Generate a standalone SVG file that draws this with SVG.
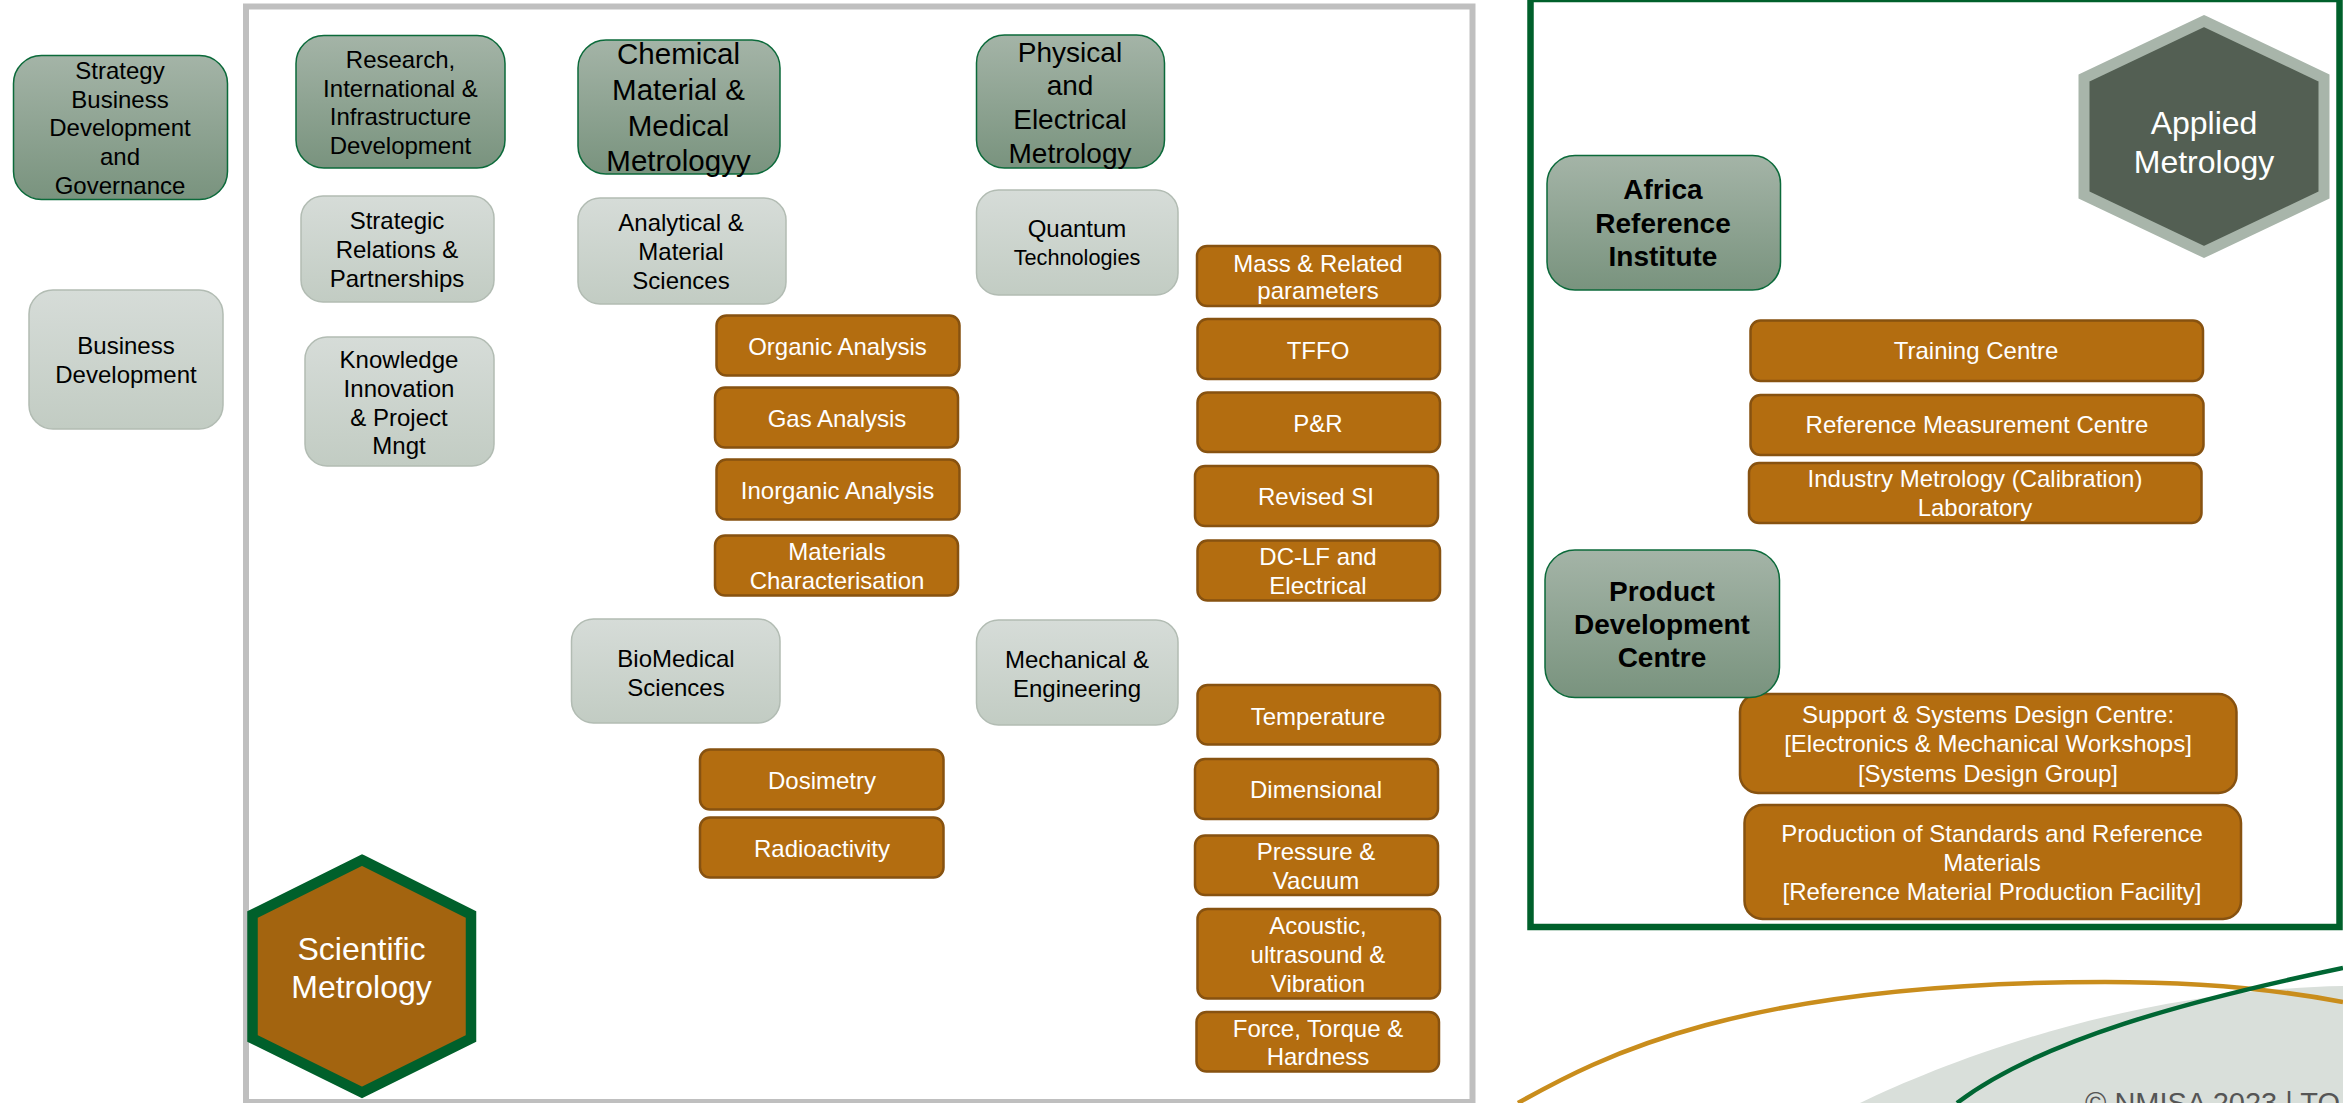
<svg xmlns="http://www.w3.org/2000/svg" width="2343" height="1103" viewBox="0 0 2343 1103">
<style>
text{font-family:"Liberation Sans",Arial,sans-serif;text-anchor:middle}
.k{fill:#000;font-size:24px}
.w{fill:#fff;font-size:24px}
.g{fill:url(#gg);stroke:#0b6a3a;stroke-width:1.5}
.l{fill:url(#lg);stroke:#b2bcb3;stroke-width:1.5}
.o{fill:#b36d10;stroke:#875210;stroke-width:2.500}
.big{font-size:32px}
.b{font-weight:bold;font-size:28px}
</style>
<defs>
<linearGradient id="gg" x1="0" y1="0" x2="0" y2="1"><stop offset="0" stop-color="#a4b4a7"/><stop offset="1" stop-color="#79937e"/></linearGradient>
<linearGradient id="lg" x1="0" y1="0" x2="0" y2="1"><stop offset="0" stop-color="#d6dcd8"/><stop offset="1" stop-color="#c2ccc3"/></linearGradient>
</defs>
<rect width="2343" height="1103" fill="#fff"/>
<g id="background">
<path d="M1860 1103C1950 1060 2130 990 2343 986V1103Z" fill="#d9dfda"/>
<path d="M1518 1103C1600 1057 1740 982 2105 982C2200 982 2280 990 2343 1002" fill="none" stroke="#c98d1c" stroke-width="4.500"/>
<path d="M1957 1103C2040 1040 2190 1000 2343 968" fill="none" stroke="#006633" stroke-width="4.500"/>
<text x="2085" y="1113" style="text-anchor:start;font-size:29px;fill:#555">© NMISA 2023 | TO</text>
<rect id="frame-scientific" x="246" y="6.500" width="1226.500" height="1095.500" fill="none" stroke="#bfbfbf" stroke-width="6"/>
<rect id="frame-applied" x="1530.500" y="-1" width="809" height="928" fill="none" stroke="#00602b" stroke-width="6.500"/>
</g>
<g id="connectors"/>

<g id="strategy"><rect class="g" x="13.500" y="55.500" width="214" height="144" rx="28"/><text class="k"><tspan x="120" y="79">Strategy</tspan><tspan x="120" y="108">Business</tspan><tspan x="120" y="136">Development</tspan><tspan x="120" y="165">and</tspan><tspan x="120" y="194">Governance</tspan></text></g>
<g id="business-development"><rect class="l" x="29" y="290" width="194" height="139" rx="24"/><text class="k"><tspan x="126" y="354">Business</tspan><tspan x="126" y="383">Development</tspan></text></g>
<g id="research"><rect class="g" x="296" y="35.500" width="209" height="132.500" rx="28"/><text class="k"><tspan x="400.500" y="68">Research,</tspan><tspan x="400.500" y="97">International &amp;</tspan><tspan x="400.500" y="125">Infrastructure</tspan><tspan x="400.500" y="154">Development</tspan></text></g>
<g id="strategic-relations"><rect class="l" x="301" y="196" width="193" height="106" rx="22"/><text class="k"><tspan x="397" y="229">Strategic</tspan><tspan x="397" y="258">Relations &amp;</tspan><tspan x="397" y="287">Partnerships</tspan></text></g>
<g id="knowledge"><rect class="l" x="305" y="337" width="189" height="129" rx="22"/><text class="k"><tspan x="399" y="368">Knowledge</tspan><tspan x="399" y="397">Innovation</tspan><tspan x="399" y="426">&amp; Project</tspan><tspan x="399" y="454">Mngt</tspan></text></g>
<g id="chemical"><rect class="g" x="578" y="40" width="202" height="134" rx="28"/><text class="k" style="font-size:29.500px"><tspan x="678.500" y="64">Chemical</tspan><tspan x="678.500" y="100">Material &amp;</tspan><tspan x="678.500" y="136">Medical</tspan><tspan x="678.500" y="171">Metrologyy</tspan></text></g>
<g id="analytical"><rect class="l" x="578" y="198" width="208" height="106" rx="22"/><text class="k"><tspan x="681" y="231">Analytical &amp;</tspan><tspan x="681" y="260">Material</tspan><tspan x="681" y="289">Sciences</tspan></text></g>
<g id="biomedical"><rect class="l" x="571.500" y="619" width="208.500" height="104" rx="22"/><text class="k"><tspan x="676" y="667">BioMedical</tspan><tspan x="676" y="696">Sciences</tspan></text></g>
<g id="physical"><rect class="g" x="976.500" y="35" width="188" height="133" rx="28"/><text class="k" style="font-size:28px"><tspan x="1070" y="62">Physical</tspan><tspan x="1070" y="95">and</tspan><tspan x="1070" y="129">Electrical</tspan><tspan x="1070" y="163">Metrology</tspan></text></g>
<g id="quantum"><rect class="l" x="976.500" y="190" width="201.500" height="105" rx="22"/><text class="k"><tspan x="1077" y="237">Quantum</tspan><tspan x="1077" y="265" style="font-size:21.700px">Technologies</tspan></text></g>
<g id="mechanical"><rect class="l" x="976.500" y="620" width="201.500" height="105" rx="22"/><text class="k"><tspan x="1077" y="668">Mechanical &amp;</tspan><tspan x="1077" y="697">Engineering</tspan></text></g>

<g id="organic"><rect class="o" x="716.500" y="315.500" width="243" height="60" rx="10"/><text class="w" x="837.500" y="355">Organic Analysis</text></g>
<g id="gas"><rect class="o" x="715" y="387.500" width="243" height="60" rx="10"/><text class="w" x="837" y="427">Gas Analysis</text></g>
<g id="inorganic"><rect class="o" x="716.500" y="459.500" width="243" height="60" rx="10"/><text class="w" x="837.500" y="499">Inorganic Analysis</text></g>
<g id="materials"><rect class="o" x="715" y="535.500" width="243" height="60" rx="10"/><text class="w"><tspan x="837" y="560">Materials</tspan><tspan x="837" y="589">Characterisation</tspan></text></g>
<g id="dosimetry"><rect class="o" x="700" y="749.500" width="243.500" height="60" rx="10"/><text class="w" x="822" y="789">Dosimetry</text></g>
<g id="radioactivity"><rect class="o" x="700" y="817.500" width="243.500" height="60" rx="10"/><text class="w" x="822" y="857">Radioactivity</text></g>

<g id="mass"><rect class="o" x="1197" y="246" width="243" height="60" rx="10"/><text class="w"><tspan x="1318" y="272">Mass &amp; Related</tspan><tspan x="1318" y="299">parameters</tspan></text></g>
<g id="tffo"><rect class="o" x="1197.500" y="319" width="242.500" height="60" rx="10"/><text class="w" x="1318" y="359">TFFO</text></g>
<g id="pr"><rect class="o" x="1197.500" y="392.500" width="242.500" height="59.500" rx="10"/><text class="w" x="1318" y="432">P&amp;R</text></g>
<g id="revised-si"><rect class="o" x="1195" y="466" width="243" height="60" rx="10"/><text class="w" x="1316" y="505">Revised SI</text></g>
<g id="dc-lf"><rect class="o" x="1197.500" y="540.500" width="242.500" height="60" rx="10"/><text class="w"><tspan x="1318" y="565">DC-LF and</tspan><tspan x="1318" y="594">Electrical</tspan></text></g>
<g id="temperature"><rect class="o" x="1197.500" y="685" width="242.500" height="59.500" rx="10"/><text class="w" x="1318" y="725">Temperature</text></g>
<g id="dimensional"><rect class="o" x="1195" y="759" width="243" height="60" rx="10"/><text class="w" x="1316" y="798">Dimensional</text></g>
<g id="pressure"><rect class="o" x="1195" y="835.500" width="243" height="59.500" rx="10"/><text class="w"><tspan x="1316" y="860">Pressure &amp;</tspan><tspan x="1316" y="889">Vacuum</tspan></text></g>
<g id="acoustic"><rect class="o" x="1197.500" y="909" width="242.500" height="89.500" rx="10"/><text class="w"><tspan x="1318" y="934">Acoustic,</tspan><tspan x="1318" y="963">ultrasound &amp;</tspan><tspan x="1318" y="992">Vibration</tspan></text></g>
<g id="force"><rect class="o" x="1196.500" y="1012" width="242.500" height="59.500" rx="10"/><text class="w"><tspan x="1318" y="1037">Force, Torque &amp;</tspan><tspan x="1318" y="1065">Hardness</tspan></text></g>

<g id="scientific-metrology"><polygon points="362,860 471,914.500 471,1038.500 362,1092.500 252.500,1038.500 252.500,914.500" fill="#a3640f" stroke="#00602b" stroke-width="10.500"/><text class="w big"><tspan x="361.500" y="960">Scientific</tspan><tspan x="361.500" y="998">Metrology</tspan></text></g>

<g id="applied-metrology"><polygon points="2204,21 2324,78 2324,195 2204,252 2084,195 2084,78" fill="#535f53" stroke="#a8b5aa" stroke-width="11"/><text class="w big"><tspan x="2204" y="134">Applied</tspan><tspan x="2204" y="173">Metrology</tspan></text></g>

<g id="africa-reference"><rect class="g" x="1547" y="155.500" width="233.500" height="134.500" rx="28"/><text class="k b"><tspan x="1663" y="199">Africa</tspan><tspan x="1663" y="233">Reference</tspan><tspan x="1663" y="266">Institute</tspan></text></g>
<g id="training"><rect class="o" x="1750.500" y="320.500" width="452.500" height="60.500" rx="10"/><text class="w" x="1976" y="359">Training Centre</text></g>
<g id="reference-measurement"><rect class="o" x="1750.500" y="395" width="453" height="60" rx="10"/><text class="w" x="1977" y="433">Reference Measurement Centre</text></g>
<g id="industry"><rect class="o" x="1749" y="463" width="452.500" height="60" rx="10"/><text class="w"><tspan x="1975" y="487">Industry Metrology (Calibration)</tspan><tspan x="1975" y="516">Laboratory</tspan></text></g>
<g id="support"><rect class="o" x="1740" y="694" width="496.500" height="99" rx="18"/><text class="w"><tspan x="1988" y="723">Support &amp; Systems Design Centre:</tspan><tspan x="1988" y="752">[Electronics &amp; Mechanical Workshops]</tspan><tspan x="1988" y="782">[Systems Design Group]</tspan></text></g>
<g id="production"><rect class="o" x="1744.500" y="805" width="496.500" height="114" rx="18"/><text class="w"><tspan x="1992" y="842">Production of Standards and Reference</tspan><tspan x="1992" y="871">Materials</tspan><tspan x="1992" y="900">[Reference Material Production Facility]</tspan></text></g>
<g id="product-development"><rect class="g" x="1545" y="550" width="234.500" height="147.500" rx="30"/><text class="k b"><tspan x="1662" y="601">Product</tspan><tspan x="1662" y="634">Development</tspan><tspan x="1662" y="667">Centre</tspan></text></g>
</svg>
